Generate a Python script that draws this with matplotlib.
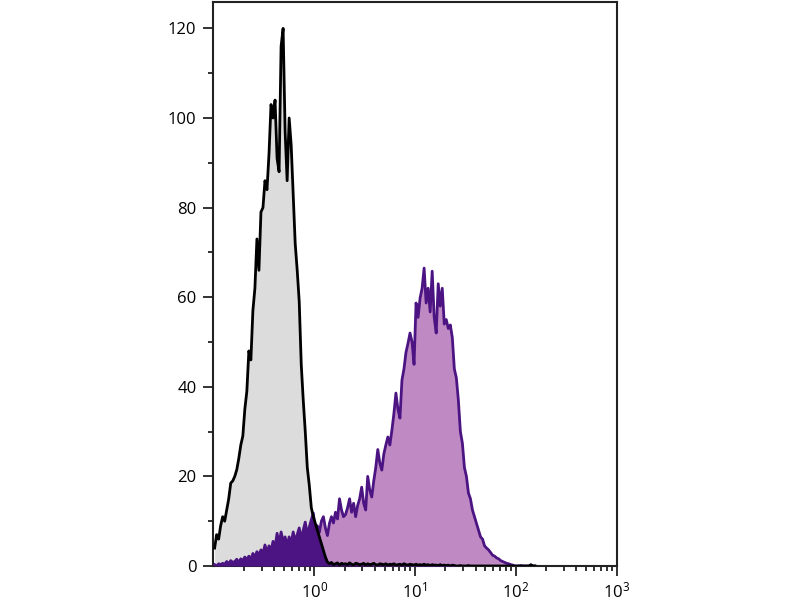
import numpy as np
import matplotlib
matplotlib.use("Agg")
import matplotlib.pyplot as plt

plt.rcParams['font.family'] = ['Open Sans', 'DejaVu Sans']
plt.rcParams['mathtext.fontset'] = 'custom'
plt.rcParams['mathtext.rm'] = 'Open Sans'

# histogram channels: log10 bins of width 0.02 starting at 10^-1
bin_start = -1.0
bin_width = 0.02

# isotype control (grey, black outline)
grey_counts = [
    4, 7, 6, 9, 11, 10, 12.5, 15, 18.5, 19,
    20, 21.5, 24, 27, 29, 35, 39, 48, 46, 57,
    62, 73, 66, 79, 80, 86, 84, 92, 103, 100,
    104, 91, 88, 116, 120, 97, 86, 100, 94, 83,
    72, 66, 59, 45, 37, 30, 22, 18, 13, 11,
    9.5, 8, 6.5, 5, 3.5, 2, 0.9, 0.5, 0.8, 0.3,
    0.5, 0.7, 0.2, 0.6, 0.4, 0.5, 0.3, 0.7, 0.4, 0.2,
    0.6, 0.5, 0.3, 0.4, 0.6, 0.2, 0.5, 0.3, 0.4, 0.6,
    0.3, 0.2, 0.5, 0.4, 0.3, 0.5, 0.2, 0.4, 0.3, 0.5,
    0.2, 0.3, 0.4, 0.2, 0.5, 0.3, 0.2, 0.4, 0.3, 0.2,
    0.4, 0.2, 0.3, 0.2, 0.4, 0.2, 0.3, 0.1, 0.3, 0.2,
    0.2, 0.1, 0.3, 0.1, 0.2, 0.1, 0.2, 0, 0.2, 0.1,
    0, 0, 0.1, 0, 0, 0, 0.1, 0, 0, 0,
    0, 0, 0, 0, 0, 0, 0, 0, 0, 0,
    0, 0, 0, 0, 0, 0, 0, 0, 0, 0,
    0, 0, 0, 0, 0, 0, 0, 0.3, 0, 0,
]

# stained sample (purple)
purple_counts = [
    0.3, 0, 0.5, 0.3, 0.6, 0.4, 1.0, 0.5, 1.2, 0.8,
    1.0, 1.5, 0.8, 1.6, 1.2, 2.0, 1.4, 2.2, 1.5, 2.8,
    2.0, 3.2, 2.4, 3.6, 2.8, 4.7, 3.0, 4.5, 3.4, 5.5,
    4.2, 7.3, 5.0, 7.6, 5.5, 6.5, 4.5, 6.5, 5.0, 7.6,
    5.5, 7.0, 8.5, 6.0, 8.0, 9.8, 7.0, 8.7, 10.3, 11.8,
    8.0, 9.0, 7.5, 10.0, 11.0, 8.5, 6.8, 9.5, 11.0, 9.6,
    12.0, 10.5, 15.0, 12.5, 11.0, 11.5, 13.0, 15.0, 12.0, 14.0,
    11.0, 13.5, 15.0, 17.6, 14.0, 12.5, 20.0, 17.0, 15.4, 19.0,
    22.0, 26.0, 23.0, 21.4, 25.0, 27.0, 28.8, 27.0, 30.3, 34.0,
    38.6, 35.0, 33.0, 41.5, 44.0, 47.7, 49.7, 52.0, 50.0, 45.0,
    58.7, 55.5, 59.8, 62.0, 66.5, 58.7, 62.0, 56.7, 65.8, 55.5,
    52.0, 63.0, 58.0, 62.0, 54.0, 55.0, 53.0, 53.8, 51.0, 44.0,
    42.0, 37.0, 30.0, 27.4, 22.0, 20.0, 16.3, 15.0, 12.5, 11.0,
    9.5, 8.0, 6.5, 6.0, 4.5, 4.0, 3.6, 3.0, 2.4, 2.2,
    1.8, 1.6, 1.2, 1.0, 0.8, 0.6, 0.5, 0.3, 0.2, 0,
    0, 0, 0.1, 0, 0, 0, 0, 0, 0, 0,
]

y_ticks = [0, 20, 40, 60, 80, 100, 120]
x_ticks = [1, 10, 100, 1000]
x_tick_labels = [r'$\mathregular{10^{0}}$', r'$\mathregular{10^{1}}$',
                 r'$\mathregular{10^{2}}$', r'$\mathregular{10^{3}}$']

n = min(len(grey_counts), len(purple_counts))
grey = np.array(grey_counts[:n], dtype=float)
purple = np.array(purple_counts[:n], dtype=float)
centers = 10 ** (bin_start + bin_width * (np.arange(n) + 0.5))
overlap = np.minimum(grey, purple)

fig = plt.figure(figsize=(8, 6), dpi=100)
ax = fig.add_axes([212.5 / 800, 34 / 600, 404 / 800, 564.5 / 600])

ax.fill_between(centers, 0, purple, color='#bf8ac4', linewidth=0, zorder=1)
ax.fill_between(centers, 0, grey, color='#dcdcdc', linewidth=0, zorder=2)
ax.fill_between(centers, 0, overlap, color='#4b1482', linewidth=0, zorder=3)
ax.plot(centers, purple, color='#4b1482', linewidth=2.0, zorder=4)
ax.plot(centers, grey, color='black', linewidth=2.0, zorder=5)

ax.set_xscale('log')
ax.set_xlim(10 ** -1.011, 10 ** 3.0)
ax.set_ylim(0, 126)

ax.set_xticks(x_ticks)
ax.set_xticklabels(x_tick_labels)
ax.xaxis.set_minor_locator(matplotlib.ticker.LogLocator(base=10, subs=np.arange(2, 10)))
ax.xaxis.set_minor_formatter(matplotlib.ticker.NullFormatter())
ax.set_yticks(y_ticks)
ax.yaxis.set_minor_locator(matplotlib.ticker.MultipleLocator(10))

ax.tick_params(axis='both', which='both', direction='out', width=1.3, colors='#222222',
               labelcolor='black', labelsize=12)
ax.tick_params(axis='y', which='major', length=7, pad=4.5)
ax.tick_params(axis='y', which='minor', length=3.5)
ax.tick_params(axis='x', which='major', length=7, pad=4)
ax.tick_params(axis='x', which='minor', length=3.6)
ax.tick_params(top=False, right=False)

for s in ax.spines.values():
    s.set_linewidth(1.5)
    s.set_color('#222222')

fig.savefig('out.png', dpi=100)
